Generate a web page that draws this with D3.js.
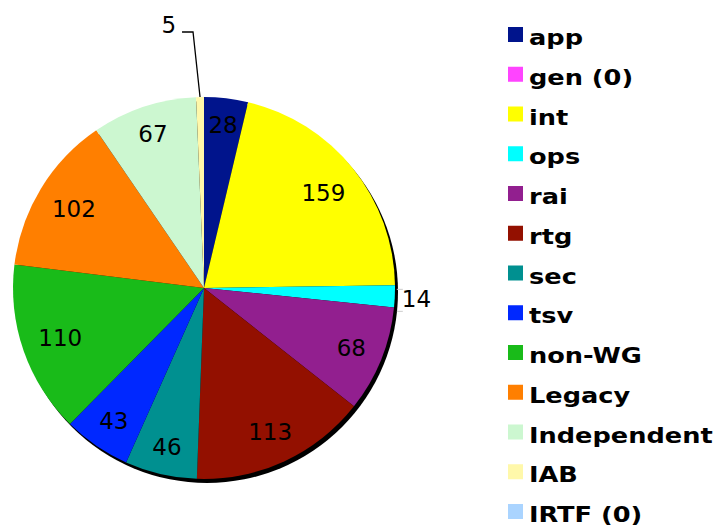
<!DOCTYPE html>
<html>
<head>
<meta charset="utf-8">
<script src="https://cdn.jsdelivr.net/npm/d3@7"></script>
<style>
  body { margin: 0; background: #fff; }
  svg { display: block; }
</style>
</head>
<body>
<div id="chart"></div>
<script>
// categories and values
const categories = ['app', 'gen', 'int', 'ops', 'rai', 'rtg', 'sec', 'tsv', 'non-WG', 'Legacy', 'Independent', 'IAB', 'IRTF'];
const values = [28, 0, 159, 14, 68, 113, 46, 43, 110, 102, 67, 5, 0];
const legendLabels = ['app', 'gen (0)', 'int', 'ops', 'rai', 'rtg', 'sec', 'tsv', 'non-WG', 'Legacy', 'Independent', 'IAB', 'IRTF (0)'];
const colors = ['#00148c', '#ff44ff', '#ffff00', '#00ffff', '#921f8f', '#931000', '#009090', '#0028ff', '#19bb19', '#ff7f00', '#ccf7d0', '#fff8aa', '#aad4ff'];

const width = 721, height = 527;
const cx = 204, cy = 288, R = 191;
const FONT = 'DejaVu Sans, Verdana, sans-serif';
const labelSize = 23;

const svg = d3.select('#chart').append('svg')
    .attr('width', width)
    .attr('height', height);

const data = categories.map((c, i) => ({ name: c, value: values[i], color: colors[i] }));

const pie = d3.pie()
    .sort(null)
    .value(d => d.value);

const arcs = pie(data);
const arc = d3.arc().innerRadius(0).outerRadius(R);

const g = svg.append('g').attr('transform', `translate(${cx},${cy})`);

// shadow under the pie
g.append('circle')
    .attr('cx', 3)
    .attr('cy', 4)
    .attr('r', R)
    .attr('fill', '#000');

g.selectAll('path.slice')
    .data(arcs.filter(d => d.data.value > 0))
    .join('path')
    .attr('class', 'slice')
    .attr('d', arc)
    .attr('fill', d => d.data.color)
    .attr('stroke', 'none');

// labels inside slices: the text box is pushed out along the mid angle
// until its outer corner touches a circle a bit inside the rim
const inside = arcs.filter(d => d.data.value > 10 && d.data.name !== 'ops');
const rim = R - 15;
g.selectAll('text.val')
    .data(inside)
    .join('text')
    .attr('class', 'val')
    .attr('text-anchor', 'middle')
    .attr('font-family', FONT)
    .attr('font-size', labelSize)
    .attr('fill', '#000')
    .text(d => d.data.value)
    .each(function(d) {
        const hw = this.getBBox().width / 2;
        const hh = 0.4 * labelSize;
        const a = (d.startAngle + d.endAngle) / 2;
        const ux = Math.sin(a), uy = -Math.cos(a);
        const sx = Math.sign(ux) * hw, sy = Math.sign(uy) * hh;
        // solve |t*u + s| = rim
        const b = 2 * (ux * sx + uy * sy);
        const c = sx * sx + sy * sy - rim * rim;
        const t = (-b + Math.sqrt(b * b - 4 * c)) / 2;
        d3.select(this)
            .attr('x', t * ux)
            .attr('y', t * uy + 0.364 * labelSize);
    });

// ops label, to the right of the pie
const ops = arcs[categories.indexOf('ops')];
const opsMid = (ops.startAngle + ops.endAngle) / 2;
const opsX = Math.sin(opsMid) * R, opsY = -Math.cos(opsMid) * R;
g.append('line')
    .attr('x1', opsX + 2).attr('y1', opsY - 7)
    .attr('x2', opsX + 8).attr('y2', opsY - 7)
    .attr('stroke', '#ccc');
g.append('line')
    .attr('x1', opsX + 2).attr('y1', opsY + 15)
    .attr('x2', opsX + 8).attr('y2', opsY + 15)
    .attr('stroke', '#ccc');
g.append('text')
    .attr('x', opsX + 7)
    .attr('y', opsY + 0.364 * labelSize + 2)
    .attr('font-family', FONT)
    .attr('font-size', labelSize)
    .text(ops.data.value);

// IAB label with leader line above the pie
const iab = arcs[categories.indexOf('IAB')];
const iabMid = (iab.startAngle + iab.endAngle) / 2;
const iabX = Math.sin(iabMid) * R, iabY = -Math.cos(iabMid) * R;
g.append('polyline')
    .attr('points', [[iabX, iabY], [iabX - 7, -256], [iabX - 18, -256]].map(p => p.join(',')).join(' '))
    .attr('fill', 'none')
    .attr('stroke', '#000')
    .attr('stroke-width', 1.3);
g.append('text')
    .attr('x', iabX - 24)
    .attr('y', -255)
    .attr('text-anchor', 'end')
    .attr('font-family', FONT)
    .attr('font-size', labelSize)
    .text(iab.data.value);

// legend
const legend = svg.append('g').attr('transform', 'translate(508,27)');
const rowStep = 39.75;
const rows = legend.selectAll('g.row')
    .data(legendLabels)
    .join('g')
    .attr('class', 'row')
    .attr('transform', (d, i) => `translate(0,${i * rowStep})`);

rows.append('rect')
    .attr('width', 15)
    .attr('height', 15)
    .attr('fill', (d, i) => colors[i]);

rows.append('text')
    .attr('transform', 'translate(21,18) scale(1.165,1)')
    .attr('font-family', FONT)
    .attr('font-weight', 'bold')
    .attr('font-size', 22)
    .attr('fill', '#000')
    .text(d => d);
</script>
</body>
</html>
